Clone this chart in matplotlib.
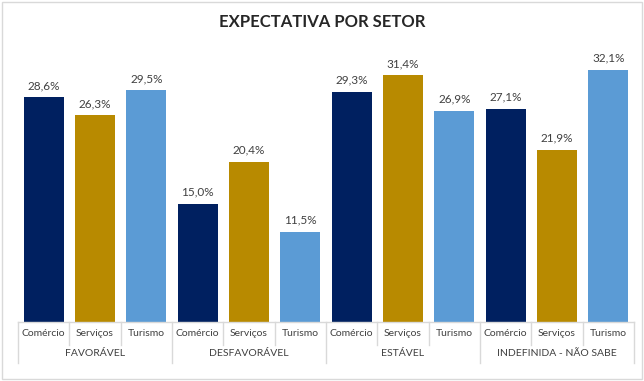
import matplotlib
matplotlib.use("Agg")
import matplotlib.pyplot as plt
from matplotlib.transforms import blended_transform_factory

groups = ["FAVORÁVEL", "DESFAVORÁVEL", "ESTÁVEL", "INDEFINIDA - NÃO SABE"]
sectors = ["Comércio", "Serviços", "Turismo"]
comercio = [28.6, 15.0, 29.3, 27.1]
servicos = [26.3, 20.4, 31.4, 21.9]
turismo = [29.5, 11.5, 26.9, 32.1]

COLORS = ["#002060", "#B88A00", "#5B9BD5"]
plt.rcParams["font.family"] = ["Lato", "DejaVu Sans"]

fig = plt.figure(figsize=(6.44, 3.81), dpi=100)
ax = fig.add_axes([18 / 644, 59 / 381, 616 / 644, 275 / 381])

series = [comercio, servicos, turismo]
for s, (vals, col) in enumerate(zip(series, COLORS)):
    xs = [g * 3 + s for g in range(len(groups))]
    ax.bar(xs, vals, width=0.78, color=col)
    for x, v in zip(xs, vals):
        ax.text(x, v + 0.8, f"{v:.1f}%".replace(".", ","), ha="center", va="bottom",
                fontsize=8.5, color="#404040")

ax.set_xlim(-0.5, 11.5)
ax.set_ylim(0, 35)
ax.axis("off")

# category axis drawn by hand (two-level labels)
tr = blended_transform_factory(ax.transData, fig.transFigure)
grey = "#D9D9D9"
y0 = 59 / 381
y1 = (381 - 345) / 381
y2 = (381 - 363) / 381
ax.plot([-0.5, 11.5], [y0, y0], transform=tr, color=grey, lw=1, clip_on=False)
for k in range(13):
    x = k - 0.5
    bottom = y2 if k % 3 == 0 else y1
    ax.plot([x, x], [y0, bottom], transform=tr, color=grey, lw=1, clip_on=False)
for g, name in enumerate(groups):
    for s, sec in enumerate(sectors):
        ax.text(g * 3 + s, (y0 + y1) / 2, sec, transform=tr, ha="center", va="center",
                fontsize=7.5, color="#404040")
    ax.text(g * 3 + 1, (y1 + y2) / 2, name, transform=tr, ha="center", va="center",
            fontsize=7.5, color="#404040")

fig.text(0.5, 1 - 22 / 381, "EXPECTATIVA POR SETOR", ha="center", va="center",
         fontsize=12, fontweight="bold", color="#262626")

# outer chart border
fig.patches.append(plt.Rectangle((0.003, 0.004), 0.994, 0.99, transform=fig.transFigure,
                                 fill=False, edgecolor="#D9D9D9", lw=1))

fig.savefig("out.png", dpi=100)
